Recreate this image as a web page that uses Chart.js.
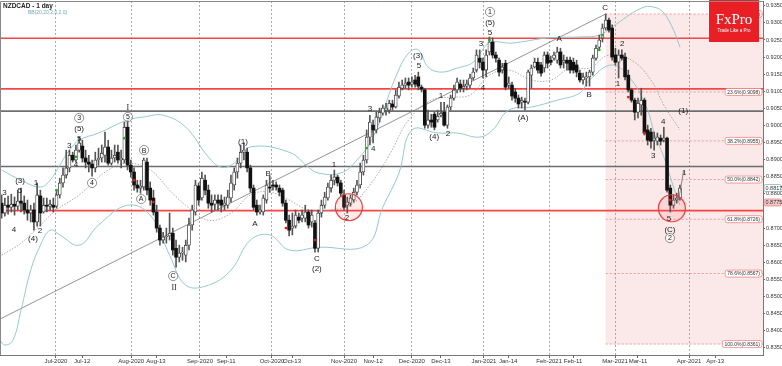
<!DOCTYPE html>
<html>
<head>
<meta charset="utf-8">
<script src="https://cdn.jsdelivr.net/npm/chart.js@4.4.0/dist/chart.umd.min.js"></script>
<style>
  html, body { margin: 0; padding: 0; background: #fff; }
  #wrap { width: 782px; height: 366px; }
</style>
</head>
<body>
<div id="wrap"><canvas id="chart"></canvas></div>
<script>
// NZDCAD daily candles, Jun 2020 - Mar 2021 (index = trading day)
const opens = [
  0.8773,0.8744,0.8767,0.8761,0.8770,0.8764,0.8779,0.8773,0.8753,0.8744,
  0.8753,0.8718,0.8794,0.8747,0.8767,0.8764,0.8767,0.8764,0.8797,0.8832,
  0.8855,0.8876,0.8913,0.8899,0.8928,0.8940,0.8905,0.8893,0.8887,0.8876,
  0.8899,0.8905,0.8913,0.8937,0.8890,0.8905,0.8922,0.8899,0.8899,0.8995,
  0.8884,0.8864,0.8826,0.8817,0.8820,0.8893,0.8817,0.8788,0.8747,0.8700,
  0.8665,0.8674,0.8677,0.8685,0.8641,0.8615,0.8627,0.8621,0.8650,0.8709,
  0.8747,0.8823,0.8788,0.8840,0.8811,0.8773,0.8770,0.8782,0.8782,0.8767,
  0.8767,0.8788,0.8826,0.8864,0.8890,0.8922,0.8922,0.8876,0.8817,0.8767,
  0.8747,0.8747,0.8782,0.8820,0.8826,0.8826,0.8817,0.8811,0.8773,0.8723,
  0.8700,0.8706,0.8732,0.8729,0.8729,0.8747,0.8718,0.8715,0.8641,0.8744,
  0.8767,0.8788,0.8817,0.8840,0.8849,0.8832,0.8797,0.8767,0.8773,0.8782,
  0.8805,0.8826,0.8864,0.8899,0.8966,0.9001,0.8987,0.9022,0.9036,0.9045,
  0.9045,0.9063,0.9054,0.9086,0.9109,0.9118,0.9127,0.9121,0.9133,0.9142,
  0.9112,0.9104,0.9001,0.9016,0.9033,0.9016,0.9030,0.9039,0.9001,0.9054,
  0.9080,0.9104,0.9121,0.9109,0.9115,0.9118,0.9139,0.9162,0.9197,0.9185,
  0.9162,0.9215,0.9244,0.9206,0.9191,0.9162,0.9182,0.9118,0.9118,0.9098,
  0.9080,0.9068,0.9071,0.9068,0.9147,0.9171,0.9185,0.9177,0.9168,0.9206,
  0.9191,0.9197,0.9191,0.9215,0.9185,0.9191,0.9191,0.9185,0.9177,0.9153,
  0.9133,0.9139,0.9142,0.9156,0.9197,0.9229,0.9256,0.9285,0.9308,0.9285,
  0.9206,0.9185,0.9206,0.9200,0.9147,0.9104,0.9074,0.9039,0.9060,0.9074,
  0.8987,0.8981,0.8957,0.8954,0.8963,0.8957,0.8963,0.8817,0.8767,0.8782,0.8788
];
const highs = [
  0.8797,0.8788,0.8794,0.8799,0.8791,0.8811,0.8817,0.8794,0.8782,0.8767,
  0.8773,0.8832,0.8811,0.8788,0.8788,0.8782,0.8788,0.8811,0.8846,0.8876,
  0.8928,0.8928,0.8922,0.8943,0.8966,0.8957,0.8928,0.8913,0.8899,0.8922,
  0.8934,0.8943,0.8981,0.8957,0.8928,0.8943,0.8943,0.8928,0.9010,0.9016,
  0.8899,0.8876,0.8840,0.8840,0.8905,0.8905,0.8835,0.8811,0.8767,0.8709,
  0.8688,0.8700,0.8744,0.8700,0.8665,0.8650,0.8644,0.8665,0.8729,0.8767,
  0.8840,0.8832,0.8864,0.8855,0.8826,0.8797,0.8797,0.8797,0.8797,0.8791,
  0.8811,0.8855,0.8876,0.8905,0.8943,0.8949,0.8934,0.8884,0.8826,0.8782,
  0.8767,0.8797,0.8840,0.8852,0.8840,0.8835,0.8826,0.8817,0.8782,0.8738,
  0.8744,0.8753,0.8744,0.8753,0.8767,0.8753,0.8753,0.8723,0.8753,0.8782,
  0.8805,0.8832,0.8855,0.8870,0.8855,0.8840,0.8811,0.8791,0.8797,0.8817,
  0.8840,0.8890,0.8913,0.8987,0.9030,0.9016,0.9039,0.9051,0.9060,0.9065,
  0.9074,0.9074,0.9104,0.9127,0.9133,0.9139,0.9139,0.9142,0.9147,0.9156,
  0.9118,0.9109,0.9045,0.9033,0.9039,0.9045,0.9068,0.9068,0.9060,0.9089,
  0.9118,0.9139,0.9133,0.9133,0.9133,0.9150,0.9168,0.9221,0.9221,0.9197,
  0.9221,0.9259,0.9256,0.9215,0.9197,0.9182,0.9191,0.9142,0.9127,0.9109,
  0.9089,0.9083,0.9080,0.9162,0.9177,0.9197,0.9197,0.9185,0.9215,0.9215,
  0.9203,0.9215,0.9229,0.9226,0.9206,0.9200,0.9200,0.9197,0.9191,0.9162,
  0.9153,0.9156,0.9162,0.9206,0.9235,0.9264,0.9297,0.9326,0.9314,0.9294,
  0.9226,0.9221,0.9221,0.9212,0.9162,0.9109,0.9080,0.9080,0.9109,0.9080,
  0.9001,0.8992,0.8981,0.8978,0.8972,0.8995,0.8966,0.8826,0.8797,0.8802,0.8826
];
const lows = [
  0.8729,0.8735,0.8741,0.8747,0.8738,0.8753,0.8747,0.8741,0.8723,0.8718,
  0.8694,0.8706,0.8706,0.8744,0.8747,0.8753,0.8747,0.8758,0.8788,0.8820,
  0.8846,0.8864,0.8893,0.8893,0.8922,0.8893,0.8876,0.8864,0.8852,0.8864,
  0.8884,0.8893,0.8893,0.8884,0.8884,0.8893,0.8890,0.8876,0.8890,0.8870,
  0.8849,0.8811,0.8805,0.8802,0.8811,0.8797,0.8767,0.8738,0.8688,0.8650,
  0.8656,0.8656,0.8665,0.8621,0.8586,0.8601,0.8606,0.8601,0.8636,0.8694,
  0.8738,0.8767,0.8782,0.8797,0.8758,0.8747,0.8753,0.8753,0.8747,0.8753,
  0.8758,0.8776,0.8811,0.8846,0.8876,0.8899,0.8864,0.8805,0.8753,0.8738,
  0.8741,0.8738,0.8773,0.8805,0.8811,0.8811,0.8794,0.8764,0.8715,0.8677,
  0.8680,0.8700,0.8715,0.8718,0.8718,0.8700,0.8703,0.8630,0.8630,0.8732,
  0.8758,0.8782,0.8805,0.8826,0.8823,0.8794,0.8753,0.8744,0.8764,0.8776,
  0.8797,0.8817,0.8855,0.8890,0.8943,0.8949,0.8978,0.9010,0.9030,0.9030,
  0.9036,0.9045,0.9051,0.9080,0.9104,0.9109,0.9104,0.9112,0.9112,0.9104,
  0.9098,0.8992,0.8992,0.8995,0.8987,0.9010,0.9025,0.8998,0.8992,0.9045,
  0.9074,0.9095,0.9098,0.9098,0.9104,0.9109,0.9133,0.9156,0.9168,0.9139,
  0.9142,0.9206,0.9197,0.9185,0.9144,0.9153,0.9104,0.9109,0.9074,0.9068,
  0.9051,0.9051,0.9045,0.9063,0.9109,0.9168,0.9153,0.9144,0.9156,0.9168,
  0.9177,0.9191,0.9182,0.9168,0.9168,0.9162,0.9153,0.9153,0.9142,0.9127,
  0.9121,0.9115,0.9115,0.9147,0.9191,0.9221,0.9244,0.9279,0.9273,0.9191,
  0.9177,0.9139,0.9191,0.9133,0.9098,0.9068,0.9016,0.9022,0.9030,0.8972,
  0.8943,0.8934,0.8928,0.8943,0.8943,0.8952,0.8805,0.8747,0.8758,0.8773,0.8782
];
const closes = [
  0.8744,0.8767,0.8761,0.8770,0.8764,0.8779,0.8773,0.8753,0.8744,0.8753,
  0.8718,0.8797,0.8744,0.8767,0.8764,0.8770,0.8761,0.8797,0.8832,0.8855,
  0.8876,0.8913,0.8899,0.8928,0.8949,0.8905,0.8893,0.8887,0.8876,0.8899,
  0.8905,0.8919,0.8937,0.8890,0.8905,0.8913,0.8899,0.8905,0.8995,0.8884,
  0.8864,0.8826,0.8817,0.8823,0.8899,0.8811,0.8782,0.8747,0.8700,0.8665,
  0.8674,0.8677,0.8685,0.8636,0.8615,0.8627,0.8630,0.8650,0.8709,0.8753,
  0.8826,0.8782,0.8846,0.8811,0.8773,0.8767,0.8782,0.8773,0.8767,0.8773,
  0.8791,0.8832,0.8864,0.8890,0.8922,0.8928,0.8876,0.8817,0.8761,0.8747,
  0.8753,0.8788,0.8826,0.8817,0.8823,0.8820,0.8805,0.8773,0.8723,0.8694,
  0.8706,0.8738,0.8723,0.8738,0.8747,0.8709,0.8738,0.8641,0.8744,0.8767,
  0.8791,0.8820,0.8840,0.8849,0.8832,0.8802,0.8761,0.8776,0.8788,0.8805,
  0.8826,0.8864,0.8899,0.8966,0.9010,0.8987,0.9025,0.9039,0.9051,0.9051,
  0.9065,0.9054,0.9089,0.9112,0.9118,0.9124,0.9118,0.9127,0.9121,0.9115,
  0.9106,0.9001,0.9016,0.9010,0.8995,0.9027,0.9036,0.9001,0.9054,0.9080,
  0.9104,0.9127,0.9109,0.9115,0.9121,0.9139,0.9156,0.9206,0.9185,0.9162,
  0.9206,0.9244,0.9206,0.9197,0.9156,0.9171,0.9112,0.9124,0.9086,0.9080,
  0.9063,0.9074,0.9068,0.9156,0.9168,0.9185,0.9162,0.9153,0.9206,0.9182,
  0.9185,0.9206,0.9215,0.9177,0.9191,0.9182,0.9162,0.9162,0.9156,0.9133,
  0.9142,0.9142,0.9156,0.9197,0.9226,0.9250,0.9285,0.9308,0.9279,0.9200,
  0.9185,0.9206,0.9197,0.9142,0.9104,0.9074,0.9039,0.9065,0.9074,0.8978,
  0.8957,0.8954,0.8963,0.8966,0.8954,0.8963,0.8811,0.8767,0.8782,0.8788,0.8817
];

// Bollinger bands (20, 2)
const bbUpperIdx = [0, 6, 12, 15, 18, 21, 24, 30, 39, 44, 50, 57, 64, 68, 72, 77, 89, 95, 98, 105, 110, 115, 122, 126, 129, 132, 136, 141, 146, 151, 158, 169, 179, 185, 189, 198, 202, 205, 208, 210];
const bbUpper = [0.8870, 0.8840, 0.8820, 0.8840, 0.8884, 0.8928, 0.8957, 0.8978, 0.9016, 0.9025, 0.9030, 0.8995, 0.8908, 0.8878, 0.8890, 0.8937, 0.8922, 0.8878, 0.8861, 0.8861, 0.8899, 0.8966, 0.9142, 0.9212, 0.9221, 0.9171, 0.9156, 0.9168, 0.9185, 0.9241, 0.9241, 0.9256, 0.9259, 0.9264, 0.9288, 0.9343, 0.9346, 0.9329, 0.9279, 0.9229];
const bbMidIdx = [0, 6, 12, 17, 24, 33, 39, 46, 52, 57, 64, 71, 77, 83, 89, 95, 102, 108, 114, 120, 126, 133, 139, 145, 151, 157, 164, 170, 176, 182, 188, 195, 201, 205, 210];
const bbMid = [0.8621, 0.8656, 0.8709, 0.8753, 0.8797, 0.8870, 0.8890, 0.8870, 0.8811, 0.8767, 0.8723, 0.8744, 0.8797, 0.8805, 0.8782, 0.8753, 0.8753, 0.8767, 0.8826, 0.8913, 0.9016, 0.9074, 0.9083, 0.9089, 0.9147, 0.9162, 0.9133, 0.9133, 0.9168, 0.9168, 0.9206, 0.9191, 0.9133, 0.9060, 0.8987];
const bbLowerIdx = [-0.5, 1, 3.5, 6, 9, 12, 15, 18, 24, 30, 39, 46, 52, 57, 64, 71, 77, 83, 89, 98, 113, 118, 123, 127, 135, 141, 148, 152, 157, 164, 172, 179, 182, 189, 195, 200, 202, 205, 208, 210];
const bbLower = [0.8372, 0.8358, 0.8372, 0.8460, 0.8577, 0.8650, 0.8694, 0.8680, 0.8650, 0.8709, 0.8767, 0.8738, 0.8621, 0.8533, 0.8533, 0.8577, 0.8665, 0.8680, 0.8636, 0.8644, 0.8650, 0.8761, 0.8861, 0.8987, 0.8978, 0.8978, 0.8966, 0.8987, 0.9045, 0.9054, 0.9074, 0.9095, 0.9133, 0.9177, 0.9133, 0.9045, 0.8978, 0.8908, 0.8820, 0.8767];

// horizontal support / resistance levels
const levelPrices = [0.9255, 0.9107, 0.9042, 0.8880, 0.8751];
const levelKinds = ['red', 'red', 'gray', 'gray', 'red'];

// trend line (start -> wave C top)
const trendIdx = [-0.5, 187];
const trendPrices = [0.8434, 0.9326];

// Fibonacci retracement of the last fall
const fibStartIdx = 187;
const fibNames = ['0.0%', '23.6%', '38.2%', '50.0%', '61.8%', '78.6%', '100.0%'];
const fibPrices = [0.9326, 0.9098, 0.8955, 0.8842, 0.8726, 0.8567, 0.8361];

// red circles
const circleIdx = [107.5, 207.5];
const circlePrices = [0.8761, 0.8758];

// signal dots
const greenIdx = [17, 23, 38, 113, 151, 185, 186];
const greenPrices = [0.8811, 0.8908, 0.8963, 0.8934, 0.9250, 0.9221, 0.9264];
const redIdx = [41, 47, 88, 97, 194, 199, 207];
const redPrices = [0.8840, 0.8776, 0.8700, 0.8665, 0.9083, 0.8978, 0.8782];

// Elliott wave labels
const waveText = ['3','(3)','5','4','1','2','(4)','3','4','3','(5)','5','4','I','5','B','A','C','II','(1)','A','B','1','C','(2)','2','3','4','(3)','5','(4)','1','2','3','1','(5)','5','4','(A)','A','B','C','2','1','(1)','4','3','5','(C)','2','1'];
const waveIdx = [0.9,5.7,5.7,3.8,10.6,11.9,9.7,20.9,23.0,24.0,24.0,24.0,28.0,39.1,39.1,44.1,43.2,53.1,53.4,74.7,78.4,82.5,102.9,97.6,97.6,106.9,114.0,115.0,128.9,129.2,133.9,136.0,138.2,148.4,151.2,151.2,151.2,149.0,161.4,172.6,181.9,186.8,192.1,190.8,211.0,204.8,201.7,206.6,206.9,206.9,211.3];
const wavePrice = [0.8805,0.8840,0.8811,0.8697,0.8834,0.8694,0.8671,0.8943,0.8887,0.9022,0.8992,0.8963,0.8832,0.9054,0.9025,0.8928,0.8785,0.8560,0.8528,0.8954,0.8715,0.8861,0.8887,0.8612,0.8583,0.8732,0.9051,0.8934,0.9206,0.9177,0.8969,0.9089,0.8978,0.9241,0.9332,0.9302,0.9273,0.9112,0.9025,0.9256,0.9092,0.9346,0.9241,0.9124,0.9045,0.9013,0.8913,0.8729,0.8697,0.8671,0.8863];
const waveCircled = [9, 12, 14, 15, 16, 17, 34, 49];

// projection stroke to the final "1"
const projIdx = [209.6, 211.1];
const projPrices = [0.8782, 0.8866];

// time axis
const tickIdx = [16.8, 24.9, 40.1, 47.8, 61.4, 69.5, 83.7, 89.9, 106, 115, 127, 136, 149.3, 156.8, 169.5, 176.9, 189.9, 197, 212.8, 220.9];
const tickText = ['Jul-2020','Jul-12','Aug-2020','Aug-13','Sep-2020','Sep-11','Oct-2020','Oct-13','Nov-2020','Nov-12','Dec-2020','Dec-13','Jan-2021','Jan-14','Feb-2021','Feb-11','Mar-2021','Mar-11','Apr-2021','Apr-13'];
const priceTicks = [0.835,0.840,0.845,0.850,0.855,0.860,0.865,0.870,0.880,0.885,0.890,0.895,0.900,0.905,0.910,0.915,0.920,0.925,0.930,0.935];
const markPrices = [0.8817, 0.8775];

const X_MIN = -0.5, X_MAX = 235.7;
const Y_MIN = 0.8329, Y_MAX = 0.9364;
const FONT = "'Liberation Sans', Arial, sans-serif";

const pts = (xs, ys) => xs.map((v, k) => ({ x: v, y: ys[k] }));

const datasets = [];

// support / resistance lines
levelPrices.forEach((p, k) => {
  datasets.push({
    type: 'line',
    data: [{ x: X_MIN, y: p }, { x: X_MAX, y: p }],
    borderColor: levelKinds[k] === 'red' ? 'rgb(245,70,70)' : 'rgb(110,110,110)',
    borderWidth: 1.6,
    pointRadius: 0,
    order: 9
  });
});

// fib dashed lines
fibPrices.forEach(p => {
  datasets.push({
    type: 'line',
    data: [{ x: fibStartIdx, y: p }, { x: X_MAX, y: p }],
    borderColor: 'rgba(235,110,110,0.8)',
    borderWidth: 0.8,
    borderDash: [2, 2],
    pointRadius: 0,
    order: 9
  });
});

// trend line
datasets.push({
  type: 'line',
  data: pts(trendIdx, trendPrices),
  borderColor: 'rgb(120,120,120)',
  borderWidth: 0.8,
  pointRadius: 0,
  order: 8
});

// bollinger
datasets.push({
  type: 'line', data: pts(bbUpperIdx, bbUpper),
  borderColor: 'rgb(150,200,205)', borderWidth: 1, pointRadius: 0, tension: 0.4, order: 7
});
datasets.push({
  type: 'line', data: pts(bbLowerIdx, bbLower),
  borderColor: 'rgb(150,200,205)', borderWidth: 1, pointRadius: 0, tension: 0.4, order: 7
});
datasets.push({
  type: 'line', data: pts(bbMidIdx, bbMid),
  borderColor: 'rgb(150,150,150)', borderWidth: 0.8, borderDash: [1.5, 1.5], pointRadius: 0, tension: 0.4, order: 7
});

// candles: wicks then bodies
const idx = closes.map((c, i) => i);
datasets.push({
  type: 'bar',
  data: idx.map(i => ({ x: i, y: [lows[i], highs[i]] })),
  backgroundColor: '#555',
  barThickness: 1,
  grouped: false,
  order: 5
});
datasets.push({
  type: 'bar',
  data: idx.map(i => ({ x: i, y: [opens[i], closes[i]] })),
  backgroundColor: idx.map(i => closes[i] >= opens[i] ? '#fff' : '#111'),
  borderColor: '#333',
  borderWidth: idx.map(i => closes[i] >= opens[i] ? 0.8 : 0),
  borderSkipped: false,
  barThickness: 3,
  minBarLength: 1,
  grouped: false,
  order: 4
});

// signal dots
datasets.push({
  type: 'line', showLine: false, data: pts(greenIdx, greenPrices),
  pointRadius: 1.4, pointBackgroundColor: 'rgb(40,170,40)', pointBorderWidth: 0, order: 3
});
datasets.push({
  type: 'line', showLine: false, data: pts(redIdx, redPrices),
  pointRadius: 1.4, pointBackgroundColor: 'rgb(220,30,30)', pointBorderWidth: 0, order: 3
});

// circles
datasets.push({
  type: 'line', showLine: false, data: pts(circleIdx, circlePrices),
  pointRadius: 13.5, pointBackgroundColor: 'rgba(255,90,90,0.13)',
  pointBorderColor: 'rgb(240,60,60)', pointBorderWidth: 1.2, order: 2
});

// projection
datasets.push({
  type: 'line', data: pts(projIdx, projPrices),
  borderColor: 'rgb(90,90,90)', borderWidth: 0.7, pointRadius: 0, order: 2
});

function roundBox(ctx, x, y, w, h, r) {
  ctx.beginPath();
  ctx.moveTo(x + r, y);
  ctx.lineTo(x + w - r, y); ctx.quadraticCurveTo(x + w, y, x + w, y + r);
  ctx.lineTo(x + w, y + h - r); ctx.quadraticCurveTo(x + w, y + h, x + w - r, y + h);
  ctx.lineTo(x + r, y + h); ctx.quadraticCurveTo(x, y + h, x, y + h - r);
  ctx.lineTo(x, y + r); ctx.quadraticCurveTo(x, y, x + r, y);
  ctx.closePath();
}

// scales must not reserve room for half-labels at the ends
function noEdgePadding(s) {
  s.paddingLeft = 0; s.paddingRight = 0; s.paddingTop = 0; s.paddingBottom = 0;
}

const decor = {
  id: 'decor',
  beforeDatasetsDraw(chart) {
    const { ctx, chartArea: a, scales: { x, y } } = chart;
    ctx.save();
    // fib shaded zone
    const x0 = x.getPixelForValue(fibStartIdx);
    const y0 = y.getPixelForValue(fibPrices[0]);
    const y1 = y.getPixelForValue(fibPrices[fibPrices.length - 1]);
    ctx.fillStyle = 'rgba(235,150,150,0.22)';
    ctx.fillRect(x0, y0, a.right - x0, y1 - y0);
    ctx.restore();
  },
  afterDatasetsDraw(chart) {
    const { ctx, chartArea: a, scales: { x, y } } = chart;
    ctx.save();

    // wave labels
    ctx.textAlign = 'center';
    ctx.textBaseline = 'middle';
    waveText.forEach((t, k) => {
      const px = x.getPixelForValue(waveIdx[k]);
      const py = y.getPixelForValue(wavePrice[k]);
      const roman = t === 'I' || t === 'II';
      ctx.font = roman ? "8px 'Liberation Serif', serif" : '8px ' + FONT;
      ctx.fillStyle = '#222';
      if (waveCircled.includes(k)) {
        ctx.beginPath();
        ctx.arc(px, py, 4.6, 0, Math.PI * 2);
        ctx.fillStyle = 'rgba(255,255,255,0.6)';
        ctx.fill();
        ctx.strokeStyle = '#666';
        ctx.lineWidth = 0.7;
        ctx.stroke();
        ctx.fillStyle = '#222';
        ctx.font = '7px ' + FONT;
      }
      ctx.fillText(t, px, py + 0.5);
    });

    // fib labels
    ctx.font = '5px ' + FONT;
    ctx.textAlign = 'left';
    fibPrices.forEach((p, k) => {
      const txt = fibNames[k] + '(' + p.toFixed(4) + ')';
      const w = ctx.measureText(txt).width + 4;
      const bx = a.right - w - 1;
      const by = y.getPixelForValue(p) - 3.5;
      roundBox(ctx, bx, by, w, 7, 2);
      ctx.fillStyle = '#fff';
      ctx.fill();
      ctx.strokeStyle = 'rgb(235,120,120)';
      ctx.lineWidth = 0.7;
      ctx.stroke();
      ctx.fillStyle = '#333';
      ctx.fillText(txt, bx + 2, by + 3.8);
    });

    // logo
    ctx.fillStyle = 'rgb(232,32,38)';
    ctx.fillRect(709, 0, 50, 42);
    ctx.fillStyle = '#fff';
    ctx.textAlign = 'center';
    ctx.font = "15px 'Liberation Serif', 'DejaVu Serif', serif";
    ctx.fillText('FxPro', 734, 20);
    ctx.font = '4.5px ' + FONT;
    ctx.fillText('Trade Like a Pro', 734, 31);

    // title
    ctx.textAlign = 'left';
    ctx.font = 'bold 6.5px ' + FONT;
    ctx.fillStyle = '#222';
    ctx.fillText('NZDCAD - 1 day', 3, 6);
    ctx.font = '5px ' + FONT;
    ctx.fillStyle = 'rgb(110,170,180)';
    ctx.fillText('BB(20,20,2,0,2,0)', 28, 13);

    // frame
    ctx.strokeStyle = '#888';
    ctx.lineWidth = 1;
    ctx.beginPath();
    ctx.moveTo(a.left + 0.5, a.bottom);
    ctx.lineTo(a.left + 0.5, a.top + 0.5);
    ctx.lineTo(a.right, a.top + 0.5);
    ctx.stroke();
    ctx.restore();
  },
  afterDraw(chart) {
    const { ctx, chartArea: a, scales: { y } } = chart;
    ctx.save();
    ctx.font = '5.5px ' + FONT;
    ctx.textAlign = 'left';
    ctx.textBaseline = 'middle';
    markPrices.forEach((p, k) => {
      const py = y.getPixelForValue(p);
      roundBox(ctx, a.right + 1, py - 3.5, 17, 7, 1.5);
      ctx.fillStyle = k === 0 ? '#fff' : 'rgb(245,200,200)';
      ctx.fill();
      ctx.strokeStyle = k === 0 ? 'rgb(120,160,165)' : 'rgb(230,120,120)';
      ctx.lineWidth = 0.7;
      ctx.stroke();
      ctx.fillStyle = '#333';
      ctx.fillText(p.toFixed(4), a.right + 2.5, py + 0.3);
    });
    ctx.restore();
  }
};

new Chart(document.getElementById('chart'), {
  type: 'bar',
  data: { datasets },
  options: {
    responsive: true,
    maintainAspectRatio: false,
    animation: false,
    layout: { autoPadding: false, padding: { top: 1, left: 0, right: 0, bottom: 0 } },
    plugins: { legend: { display: false }, tooltip: { enabled: false } },
    scales: {
      x: {
        type: 'linear',
        min: X_MIN,
        max: X_MAX,
        offset: false,
        afterBuildTicks: s => { s.ticks = tickIdx.map(v => ({ value: v })); },
        afterFit: s => { s.height = 11; noEdgePadding(s); },
        ticks: {
          autoSkip: false,
          maxRotation: 0,
          padding: 0,
          font: { size: 6, family: FONT },
          color: '#333',
          callback: (v, i) => tickText[i]
        },
        grid: {
          offset: false,
          color: c => (c.index % 2 === 0 ? 'rgb(170,170,170)' : 'rgba(0,0,0,0)'),
          lineWidth: 1,
          tickLength: 3,
          tickColor: '#666'
        },
        border: { color: '#777', dash: [2, 2] }
      },
      y: {
        type: 'linear',
        position: 'right',
        min: Y_MIN,
        max: Y_MAX,
        afterBuildTicks: s => { s.ticks = priceTicks.map(v => ({ value: v })); },
        afterFit: s => { s.width = 19; noEdgePadding(s); },
        ticks: {
          padding: 1,
          font: { size: 5.5, family: FONT },
          color: '#333',
          callback: v => v.toFixed(4)
        },
        grid: { drawOnChartArea: false, tickLength: 2, tickColor: '#666' },
        border: { color: '#777' }
      }
    }
  },
  plugins: [decor]
});
</script>
</body>
</html>
